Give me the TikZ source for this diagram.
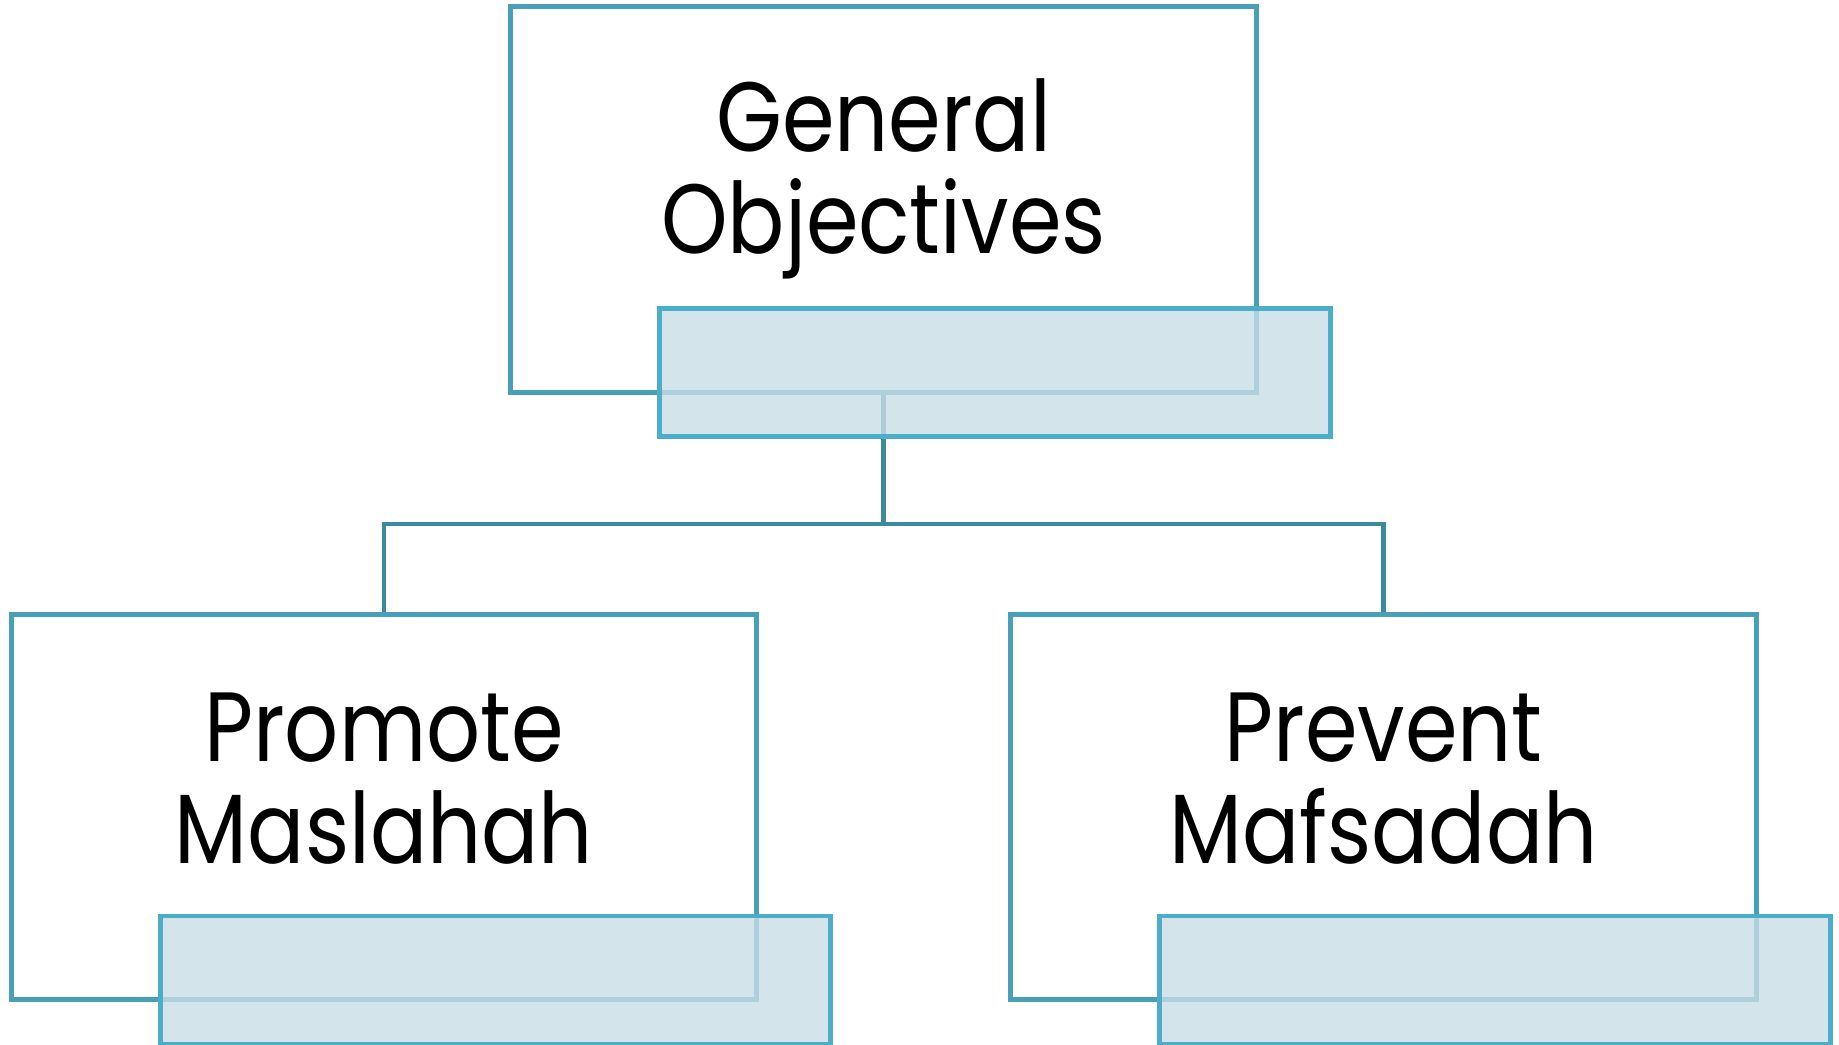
\documentclass[tikz,border=0pt]{standalone}
\usepackage{fontspec}
\setmainfont{Poppins}[FakeStretch=0.86]
\usepackage{xcolor}
\usepackage{tikz}
\usetikzlibrary{positioning}

\definecolor{boxline}{HTML}{47A0B8}
\definecolor{linkline}{HTML}{3C8A9E}
\definecolor{tabline}{HTML}{4BADC8}
\definecolor{tabfill}{HTML}{C8DDE6}

\begin{document}
\begin{tikzpicture}[x=0.01cm,y=-0.01cm,
  box/.style={draw=boxline,line width=1.4pt,minimum width=7.45cm,minimum height=3.85cm,inner sep=0pt},
  tab/.style={draw=tabline,line width=1.4pt,fill=tabfill,fill opacity=0.8,minimum width=6.7cm,minimum height=1.28cm,inner sep=0pt,anchor=north west},
  txt/.style={align=center,font=\fontsize{28}{29}\selectfont,inner sep=0pt},
  link/.style={draw=linkline,line width=1.4pt}]

  \useasboundingbox (0,0) rectangle (1839,1044);

  % Boxes
  \node[box] (general) at (883.5,199.5) {};
  \node[box] (promote) at (384,807) {};
  \node[box] (prevent) at (1383.5,807) {};

  % Texts
  \node[txt] (generalTxt) at ([yshift=0.205cm]general.center) {General\\Objectives};
  \node[txt] (promoteTxt) at ([yshift=0.285cm]promote.center) {Promote\\Maslahah};
  \node[txt] (preventTxt) at ([yshift=0.285cm]prevent.center) {Prevent\\Mafsadah};

  % Connectors
  \coordinate (bus) at (883.5,524);
  \draw[link] (general.south) -- (general.south |- bus) -| (promote.north);
  \draw[link] (general.south |- bus) -| (prevent.north);

  % Tabs
  \node[tab] (generalTab) at ([xshift=1.49cm,yshift=0.885cm]general.south west) {};
  \node[tab] (promoteTab) at ([xshift=1.49cm,yshift=0.885cm]promote.south west) {};
  \node[tab] (preventTab) at ([xshift=1.49cm,yshift=0.885cm]prevent.south west) {};

\end{tikzpicture}
\end{document}
